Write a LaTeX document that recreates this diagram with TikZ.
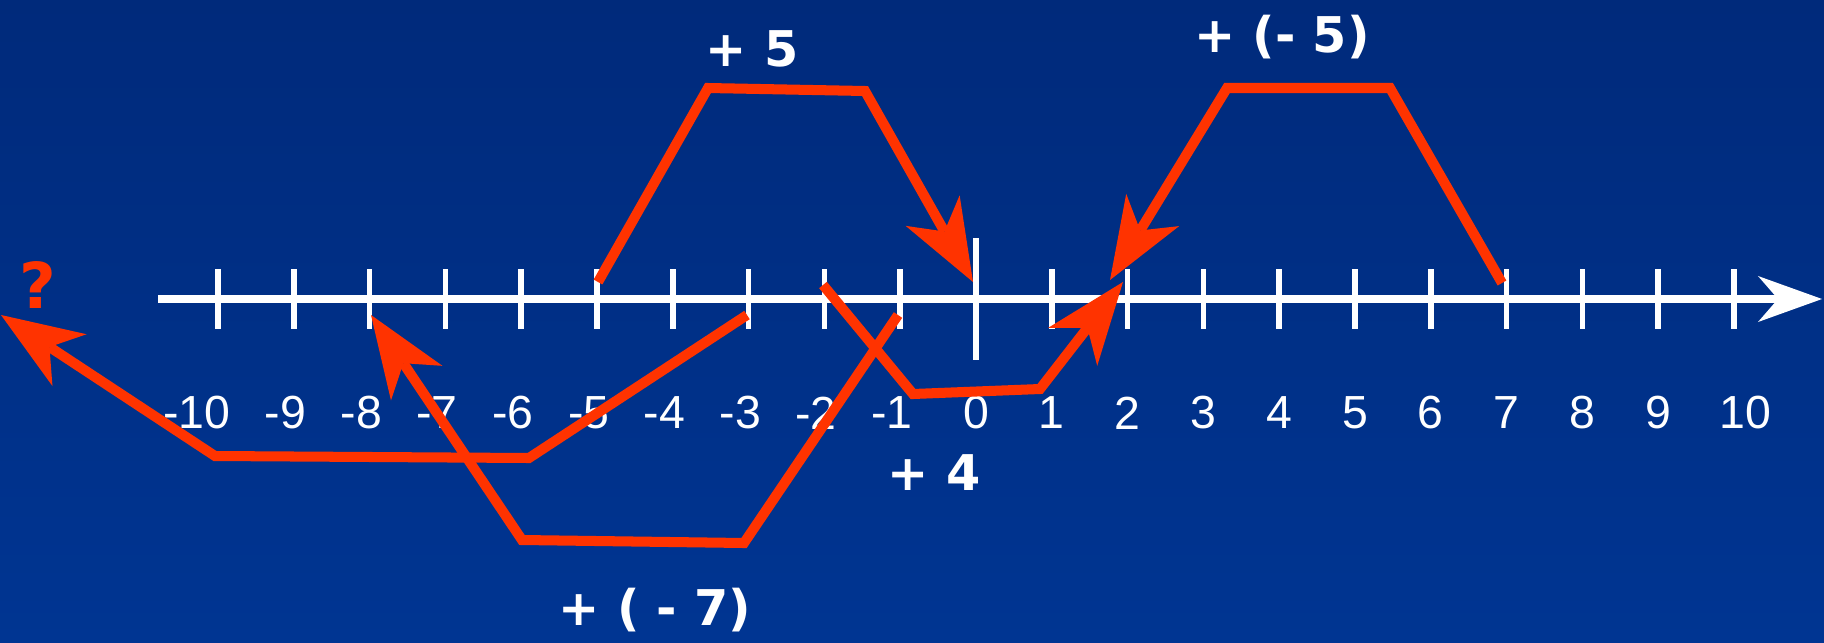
\documentclass[tikz,border=0pt]{standalone}
\usepackage{fontspec}
\setmainfont{Liberation Sans}
\newfontfamily\jumpfont{DejaVu Sans}
\usetikzlibrary{arrows.meta}
\definecolor{slidetop}{HTML}{002A7B}
\definecolor{slidebottom}{HTML}{003592}
\definecolor{jumpred}{HTML}{FF3300}

\tikzset{
  axisline/.style={white, line width=2.3pt,
    -{Stealth[length=6.4mm, width=4.6mm, inset=2mm, line width=0pt]}},
  tickmark/.style={white, line width=1.6pt},
  numlbl/.style={white, inner sep=0pt, font=\fontsize{13.2}{15}\selectfont},
  jumplbl/.style={white, inner sep=0pt, font=\jumpfont\bfseries\fontsize{14}{16}\selectfont},
  jump/.style={jumpred, line width=2.85pt,
    -{Stealth[length=8.2mm, width=6.2mm, inset=2.4mm, line width=0pt]}},
}

\begin{document}
\begin{tikzpicture}[x=0.01cm, y=-0.01cm]
  \shade[top color=slidetop, bottom color=slidebottom] (0,0) rectangle (1824,642);
  \useasboundingbox (0,0) rectangle (1824,642);

  % number line
  \coordinate (axstart) at (158,299);
  \coordinate (axend) at (1822,299);
  \draw[axisline] (axstart) -- (axend);
  \foreach \i in {-10,...,10}{
    \coordinate (t\i) at ({976+75.8*\i},299);
    \draw[tickmark] (t\i) ++(0,-30) -- ++(0,60);
  }
  \draw[tickmark] (t0) ++(0,-61) -- ++(0,122);

  \foreach \i in {-10,...,-1}
    \node[numlbl, anchor=east] (n\i) at ({989+75.8*\i},413) {\i};
  \foreach \i in {0,...,9}
    \node[numlbl] (n\i) at ({976+75.8*\i},413) {\i};
  \node[numlbl] (n10) at (1745,413) {10};

  % jumps
  \coordinate (a1) at (598,282);
  \coordinate (a2) at (708,88);
  \coordinate (a3) at (865,91);
  \coordinate (a4) at (973,282);
  \draw[jump] (a1) -- (a2) -- (a3) -- (a4);

  \coordinate (b1) at (1502,283);
  \coordinate (b2) at (1390,88);
  \coordinate (b3) at (1227,88);
  \coordinate (b4) at (1110,280);
  \draw[jump] (b1) -- (b2) -- (b3) -- (b4);

  \coordinate (c1) at (823,285);
  \coordinate (c2) at (913,394);
  \coordinate (c3) at (1040,389);
  \coordinate (c4) at (1123,282);
  \draw[jump] (c1) -- (c2) -- (c3) -- (c4);

  \coordinate (d1) at (898,315);
  \coordinate (d2) at (744,543);
  \coordinate (d3) at (522,540);
  \coordinate (d4) at (371,315);
  \draw[jump] (d1) -- (d2) -- (d3) -- (d4);

  \coordinate (e1) at (747,315);
  \coordinate (e2) at (529,458);
  \coordinate (e3) at (215,456);
  \coordinate (e4) at (1,315);
  \draw[jump] (e1) -- (e2) -- (e3) -- (e4);

  % labels
  \node[jumplbl] (lplus5) at (752,49) {+ 5};
  \node[jumplbl] (lminus5) at (1282,37) {+ (- 5)};
  \node[jumplbl] (lplus4) at (934,473) {+ 4};
  \node[jumplbl] (lminus7) at (655,610) {+ ( - 7)};
  \node[jumpred, inner sep=0pt, font=\jumpfont\bfseries\fontsize{18}{20}\selectfont] (ask) at (38,285) {?};
\end{tikzpicture}
\end{document}
